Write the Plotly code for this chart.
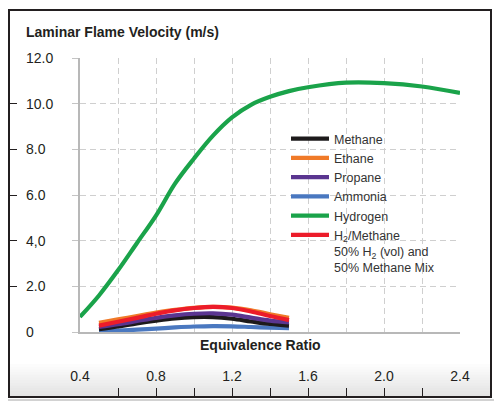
import plotly.graph_objects as go

# equivalence ratio points for the hydrocarbon / ammonia / blend curves
phi = [0.5, 0.6, 0.7, 0.8, 0.9, 1.0, 1.1, 1.2, 1.3, 1.4, 1.5]
methane = [0.12, 0.24, 0.38, 0.50, 0.60, 0.65, 0.65, 0.58, 0.46, 0.35, 0.28]
ethane = [0.40, 0.55, 0.70, 0.85, 0.97, 1.06, 1.10, 1.07, 0.95, 0.78, 0.62]
propane = [0.22, 0.34, 0.48, 0.62, 0.73, 0.80, 0.82, 0.76, 0.63, 0.50, 0.42]
ammonia = [0.03, 0.06, 0.10, 0.15, 0.20, 0.24, 0.26, 0.25, 0.22, 0.19, 0.17]
h2_methane = [0.28, 0.45, 0.62, 0.80, 0.95, 1.05, 1.10, 1.05, 0.90, 0.70, 0.52]

# hydrogen covers a wider range
phi_h2 = [0.4, 0.5, 0.6, 0.7, 0.8, 0.9, 1.0, 1.1, 1.2, 1.3, 1.4, 1.5, 1.6, 1.8, 2.0, 2.2, 2.4]
hydrogen = [0.66, 1.6, 2.7, 3.9, 5.1, 6.5, 7.6, 8.6, 9.4, 9.95, 10.3, 10.55, 10.72, 10.92, 10.9, 10.75, 10.47]

y_ticks = [0, 2, 4, 6, 8, 10, 12]
y_labels = ["0", "2.0", "4,0", "6.0", "8.0", "10.0", "12.0"]
x_ticks = [0.4, 0.6, 0.8, 1.0, 1.2, 1.4, 1.6, 1.8, 2.0, 2.2, 2.4]
x_label_ticks = [0.4, 0.8, 1.2, 1.6, 2.0, 2.4]
x_labels = ["0.4", "0.8", "1.2", "1.6", "2.0", "2.4"]

INK = "#231f20"
OFF = 8  # page body margin
W, H = 494, 399
ML, MR, MT, MB = 1, 11, 2, 10
PW, PH = W - ML - MR, H - MT - MB


# helpers: screen pixel -> paper fraction
def px_x(p):
    return (p - OFF - ML) / PW


def px_y(p):
    return (H - MB - (p - OFF)) / PH


fig = go.Figure()

# drawn bottom-up so red/orange sit on top like the original; legendrank keeps legend order
series = [
    ("Ammonia", phi, ammonia, "#4a78c0", 4),
    ("Methane", phi, methane, "#1d1a1b", 1),
    ("Propane", phi, propane, "#5a3590", 3),
    ("Ethane", phi, ethane, "#f07a28", 2),
    ("H<sub>2</sub>/Methane<br>50% H<sub>2</sub> (vol) and<br>50% Methane Mix", phi, h2_methane, "#ec1c2a", 6),
    ("Hydrogen", phi_h2, hydrogen, "#1aa34a", 5),
]
for name, xs, ys, col, rank in series:
    fig.add_trace(go.Scatter(
        x=xs, y=ys, name=name, mode="lines",
        line=dict(color=col, width=4.2, shape="spline"),
        legendrank=rank,
    ))

# empty trace so the frame axes (x2/y2) get drawn
fig.add_trace(go.Scatter(x=[], y=[], xaxis="x2", yaxis="y2", showlegend=False, hoverinfo="skip"))

# bottom band, faked gradient
shapes = []
n = 12
top, bot = 364, 396
for i in range(n):
    g = int(255 - (255 - 228) * (i + 1) / n)
    y0 = top + (bot - top) * i / n
    y1 = top + (bot - top) * (i + 1) / n + 0.5
    shapes.append(dict(type="rect", xref="paper", yref="paper",
                       x0=0, x1=1, y0=px_y(y1), y1=px_y(y0),
                       fillcolor=f"rgb({g},{g},{g})", line=dict(width=0), layer="below"))
# shadow under the frame + the frame itself
shapes.append(dict(type="line", xref="paper", yref="paper",
                   x0=px_x(6), x1=px_x(495), y0=px_y(400), y1=px_y(400),
                   line=dict(color="#d2d2d2", width=2)))
shapes.append(dict(type="rect", xref="paper", yref="paper", x0=0, x1=1, y0=0, y1=1,
                   line=dict(color=INK, width=2)))

# y tick labels sit left-aligned just inside the frame
annotations = [dict(text="<b>Equivalence Ratio</b>", xref="paper", yref="paper",
                    x=px_x(260), y=px_y(355), showarrow=False,
                    font=dict(size=14, color=INK))]
for v, lab in zip(y_ticks, y_labels):
    annotations.append(dict(text=lab, xref="paper", yref="y", x=px_x(24), y=v,
                            xanchor="left", yanchor="middle", showarrow=False,
                            font=dict(size=14, color=INK)))

fig.update_layout(
    width=W, height=H,
    margin=dict(l=ML, r=MR, t=MT, b=MB, autoexpand=False),
    paper_bgcolor="white", plot_bgcolor="white",
    font=dict(family="Liberation Sans, Arial, sans-serif", size=13, color=INK),
    title=dict(text="<b>Laminar Flame Velocity (m/s)</b>", x=(26 - OFF) / W, xanchor="left",
               y=1 - (32 - OFF) / H, yanchor="middle", font=dict(size=14, color=INK)),
    shapes=shapes,
    annotations=annotations,
    legend=dict(x=px_x(286), y=px_y(124), xanchor="left", yanchor="top",
                bgcolor="rgba(0,0,0,0)", font=dict(size=12.5, color="#333333"),
                valign="top", tracegroupgap=0, itemwidth=38),
    xaxis=dict(domain=[px_x(80), px_x(460)], range=[0.4, 2.4], automargin=False,
               tickvals=x_ticks[1:-1], showticklabels=False, ticks="",
               showgrid=True, gridcolor="#cfcfcf", griddash="6px,4px", gridwidth=1,
               showline=True, linecolor="#b8b8b8", linewidth=1.5, zeroline=False),
    yaxis=dict(domain=[px_y(332), px_y(58)], range=[0, 12], automargin=False,
               tickvals=y_ticks, showticklabels=False,
               ticks="outside", ticklen=6, tickcolor="#c4c4c4",
               showgrid=True, gridcolor="#cfcfcf", griddash="6px,4px", gridwidth=1,
               showline=True, linecolor="#b8b8b8", linewidth=1.5, zeroline=False),
    xaxis2=dict(overlaying="x", anchor="free", position=0, side="bottom", automargin=False,
                range=[0.4, 2.4], tickvals=x_label_ticks, ticktext=x_labels,
                ticks="inside", ticklen=9, tickcolor=INK, tickwidth=1.2,
                minor=dict(tickvals=x_ticks, ticks="inside", ticklen=9,
                           tickcolor=INK, tickwidth=1.2, showgrid=False),
                ticklabelposition="inside", ticklabelstandoff=4, ticklabeloverflow="allow",
                showgrid=False, showline=False, zeroline=False,
                tickfont=dict(size=14, color=INK)),
    yaxis2=dict(overlaying="y", anchor="free", position=0, side="left", automargin=False,
                range=[0, 12], tickvals=y_ticks, showticklabels=False,
                ticks="inside", ticklen=7, tickcolor=INK, tickwidth=1.2,
                showgrid=False, showline=False, zeroline=False),
)

fig.write_html("out.html")
